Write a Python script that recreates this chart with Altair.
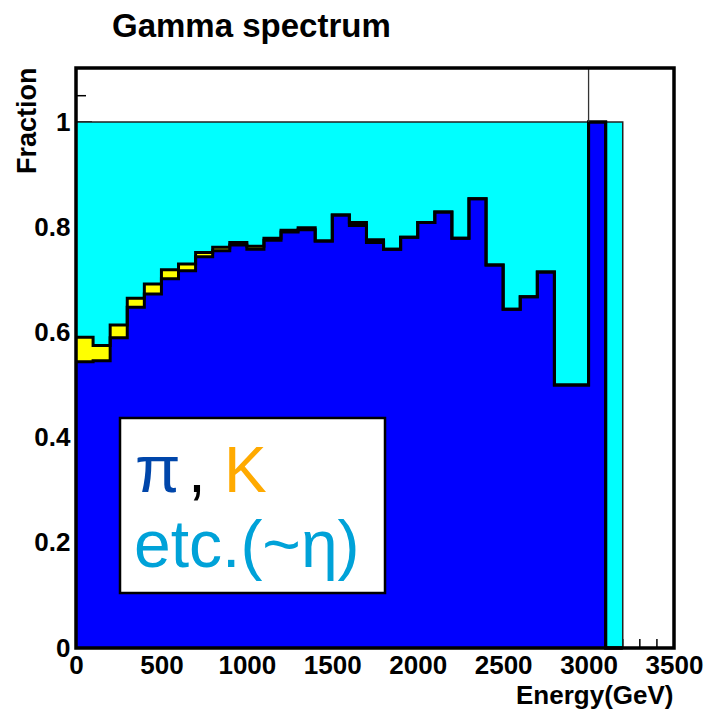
import altair as alt
import pandas as pd

# ---------------- data ----------------
bin_lo = [0, 100, 200, 300, 400, 500, 600, 700, 800, 900,
          1000, 1100, 1200, 1300, 1400, 1500, 1600, 1700, 1800, 1900,
          2000, 2100, 2200, 2300, 2400, 2500, 2600, 2700, 2800, 2900,
          3000, 3100]
bin_hi = [100, 200, 300, 400, 500, 600, 700, 800, 900, 1000,
          1100, 1200, 1300, 1400, 1500, 1600, 1700, 1800, 1900, 2000,
          2100, 2200, 2300, 2400, 2500, 2600, 2700, 2800, 2900, 3000,
          3100, 3200]
pi_frac = [0.544, 0.546, 0.590, 0.648, 0.673, 0.702, 0.717, 0.744, 0.755, 0.766,
           0.758, 0.775, 0.791, 0.795, 0.774, 0.823, 0.803, 0.771, 0.758, 0.781,
           0.809, 0.829, 0.779, 0.854, 0.728, 0.644, 0.668, 0.715, 0.500, 0.500,
           1.000, 0.000]
k_frac = [0.047, 0.029, 0.024, 0.017, 0.019, 0.017, 0.013, 0.008, 0.007, 0.005,
          0.006, 0.004, 0.003, 0.004, 0.000, 0.000, 0.006, 0.005, 0.000, 0.000,
          0.000, 0.000, 0.000, 0.000, 0.000, 0.000, 0.000, 0.000, 0.000, 0.000,
          0.000, 0.000]
etc_frac = [0.409, 0.425, 0.386, 0.335, 0.308, 0.281, 0.270, 0.248, 0.238, 0.229,
            0.236, 0.221, 0.206, 0.201, 0.226, 0.177, 0.191, 0.224, 0.242, 0.219,
            0.191, 0.171, 0.221, 0.146, 0.272, 0.356, 0.332, 0.285, 0.500, 0.500,
            0.000, 1.000]

x_major = [0, 500, 1000, 1500, 2000, 2500, 3000, 3500]
x_minor = [v for v in range(100, 3500, 100) if v % 500 != 0]
y_major = [0, 0.2, 0.4, 0.6, 0.8, 1.0]
y_minor = [0.05, 0.1, 0.15, 0.25, 0.3, 0.35, 0.45, 0.5, 0.55, 0.65, 0.7, 0.75,
           0.85, 0.9, 0.95, 1.05]

title_text = "Gamma spectrum"
x_title = "Energy(GeV)"
y_title = "Fraction"

# ---------------- layout ----------------
W, H = 598, 580
FONT = "Liberation Sans"

top_pi = list(pi_frac)
top_k = [p + k for p, k in zip(pi_frac, k_frac)]
top_all = [p + k + e for p, k, e in zip(pi_frac, k_frac, etc_frac)]
edges = bin_lo + [bin_hi[-1]]

def band_df(lo, hi):
    lo2 = lo + [lo[-1]]
    hi2 = hi + [hi[-1]]
    return pd.DataFrame({"x": edges, "lo": lo2, "hi": hi2})

def step_df(levels, end_value):
    return pd.DataFrame({"x": edges, "y": levels + [end_value]})

xs = alt.Scale(domain=[0, 3500], nice=False, zero=False)
ys = alt.Scale(domain=[0, 580 / 526], nice=False, zero=False)

x_axis = alt.Axis(values=x_major, format="d", title=x_title, ticks=False, tickSize=0,
                  domain=False, grid=False, labelFont=FONT, labelFontSize=26,
                  labelFontWeight="bold", labelColor="black", labelFlush=False,
                  labelOverlap=False, labelBaseline="alphabetic", labelPadding=25,
                  titleFont=FONT, titleFontSize=26, titleFontWeight="bold",
                  titleColor="black", titleX=597, titleY=55, titleAlign="right",
                  titleBaseline="alphabetic", titleAngle=0)
y_axis = alt.Axis(values=y_major, format="~g", title=y_title, ticks=False, tickSize=0,
                  domain=False, grid=False, labelFont=FONT, labelFontSize=26,
                  labelFontWeight="bold", labelColor="black", labelFlush=False,
                  labelOverlap=False, labelPadding=6, labelBaseline="middle",
                  titleFont=FONT, titleFontSize=27, titleFontWeight="bold",
                  titleColor="black", titleX=-41, titleY=-1, titleAlign="right",
                  titleBaseline="alphabetic", titleAngle=270)

def X(field):
    return alt.X(field, type="quantitative", scale=xs, axis=x_axis)

def Y(field):
    return alt.Y(field, type="quantitative", scale=ys, axis=y_axis, stack=None)

one = pd.DataFrame({"a": [0]})

# inner ticks (drawn under the fills, as in ROOT)
xmaj = alt.Chart(pd.DataFrame({"v": x_major})).mark_rule(color="black", strokeWidth=1.5).encode(
    x=X("v"), y=alt.value(H), y2=alt.value(H - 16))
xmin = alt.Chart(pd.DataFrame({"v": x_minor})).mark_rule(color="black", strokeWidth=1.5).encode(
    x=X("v"), y=alt.value(H), y2=alt.value(H - 9))
ymaj = alt.Chart(pd.DataFrame({"v": y_major})).mark_rule(color="black", strokeWidth=1.5).encode(
    y=Y("v"), x=alt.value(0), x2=alt.value(16))
ymin = alt.Chart(pd.DataFrame({"v": y_minor})).mark_rule(color="black", strokeWidth=1.5).encode(
    y=Y("v"), x=alt.value(0), x2=alt.value(10))

def band(lo, hi, color):
    return alt.Chart(band_df(lo, hi)).mark_area(
        interpolate="step-after", color=color, opacity=1, fillOpacity=1).encode(
        x=X("x"), y=Y("lo"), y2="hi:Q")

fill_pi = band([0.0] * len(bin_lo), top_pi, "#0000ff")
fill_k = band(top_pi, top_k, "#ffff00")
fill_etc = band(top_k, top_all, "#00ffff")

def outline(df, width, color):
    return alt.Chart(df).mark_line(interpolate="step-after", color=color,
                                   strokeWidth=width, strokeJoin="miter").encode(
        x=X("x"), y=Y("y"), order=alt.Order("x:Q"),
    )

line_all = outline(step_df(top_all, 0.0), 1.5, "#222222")
line_k = outline(step_df(top_k, 0.0), 3, "black")
line_pi = outline(step_df(top_pi, 0.0), 3, "black")

spike = alt.Chart(pd.DataFrame({"x": [3000], "y": [1.0]})).mark_rule(
    color="#333333", strokeWidth=1.3).encode(x=X("x"), y=Y("y"), y2=alt.value(0))

frame = alt.Chart(one).mark_rect(filled=False, stroke="black", strokeWidth=3.5).encode(
    x=alt.value(0), x2=alt.value(W), y=alt.value(0), y2=alt.value(H))

box = alt.Chart(one).mark_rect(fill="white", stroke="black", strokeWidth=2.5).encode(
    x=alt.value(44), x2=alt.value(309), y=alt.value(350), y2=alt.value(525))

LEG_FONT = "Liberation Sans"

def label(txt, x, y, color, size=64, font=LEG_FONT, weight="normal"):
    return alt.Chart(one).mark_text(text=txt, align="left", baseline="alphabetic",
                                    font=font, fontSize=size, fontWeight=weight,
                                    color=color).encode(x=alt.value(x), y=alt.value(y))

t_pi = label("π", 59, 424, "#0046aa", size=66)
t_comma = label(",", 112, 424, "black")
t_k = label("K", 148, 424, "#ffaa00")
t_etc = label("etc.(~η)", 58, 499, "#00a2d8", size=66)
t_title = label(title_text, 36, -31, "black", size=33, font=FONT, weight="bold")

chart = alt.layer(
    xmaj, xmin, ymaj, ymin, fill_pi, fill_k, fill_etc, line_all, line_k, line_pi,
    spike, frame, box, t_pi, t_comma, t_k, t_etc, t_title,
).properties(
    width=W, height=H,
    autosize=alt.AutoSizeParams(type="none"),
    padding={"left": 76, "top": 68, "right": 32, "bottom": 64},
    background="white",
).configure_view(stroke=None)

chart.save("out.html", embed_options={"renderer": "svg", "actions": False})
